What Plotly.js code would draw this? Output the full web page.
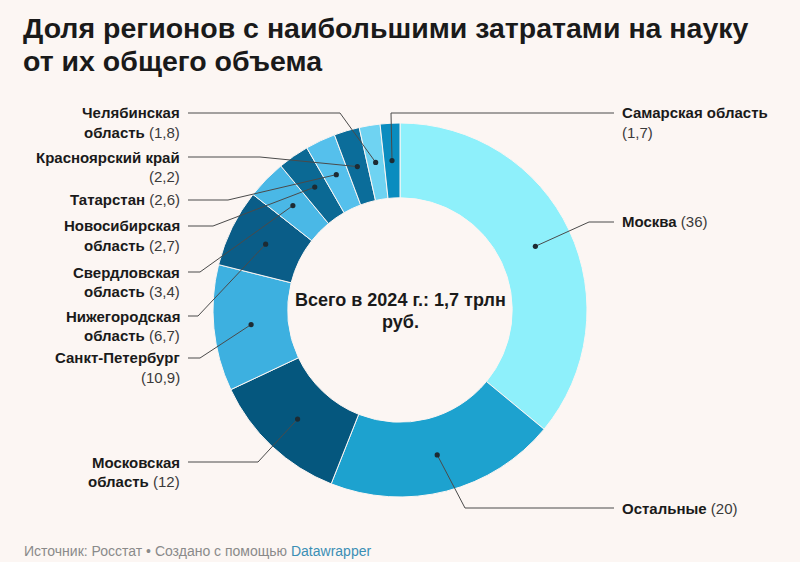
<!DOCTYPE html>
<html>
<head>
<meta charset="utf-8">
<script src="https://cdn.plot.ly/plotly-3.0.1.min.js"></script>
<style>
  html, body { margin: 0; padding: 0; background: #fcf6f3; }
  #chart { width: 800px; height: 562px; }
</style>
</head>
<body>
<div id="chart"></div>
<script>
'use strict'

// data, clockwise from 12 o'clock
const regions = ['Москва', 'Остальные', 'Московская<br>область', 'Санкт-Петербург', 'Нижегородская<br>область',
    'Свердловская<br>область', 'Новосибирская<br>область', 'Татарстан', 'Красноярский край', 'Челябинская<br>область',
    'Самарская область'];
const shares = [36, 20, 12, 10.9, 6.7, 3.4, 2.7, 2.6, 2.2, 1.8, 1.7];
const shareText = ['36', '20', '12', '10,9', '6,7', '3,4', '2,7', '2,6', '2,2', '1,8', '1,7'];
const colors = ['#8ef0fb', '#1da2cf', '#05577e', '#3db0e0', '#0a5d88', '#4ab8e6', '#0b6994', '#55c0ec',
    '#0b6d9a', '#6fd3f2', '#0a8cbf'];

// label layout (pixels): side, y of leader line, elbow x, number on its own line?
const labelSide = ['r', 'r', 'l', 'l', 'l', 'l', 'l', 'l', 'l', 'l', 'r'];
const labelY = [222, 508, 462, 358, 316, 272, 226, 200, 157, 113, 113];
const elbowX = [589, 465, 258, 200, 198, 200, 213, 228, 260, 340, 391];
const numBreak = [false, false, false, true, false, false, false, false, true, false, true];

const W = 800, H = 562;
const cx = 400, cy = 310, R = 187, hole = 0.6;
const FONT = 'Liberation Sans, Arial, sans-serif';
const px = x => x / W;
const py = y => 1 - y / H;

let shapes = [], annotations = [];
let total = shares.reduce((a, b) => a + b, 0);
let cum = 0;
const rMid = R * (1 + hole) / 2;

function addText(x, y, txt, anchor, size, color) {
    annotations.push({xref: 'paper', yref: 'paper', x: px(x), y: py(y), xanchor: anchor, yanchor: 'middle',
        showarrow: false, text: txt, font: {family: FONT, size: size, color: color}});
}

for (let i = 0; i < shares.length; i++) {
    let mid = (cum + shares[i] / 2) / total * 2 * Math.PI;
    cum += shares[i];
    let dx = cx + rMid * Math.sin(mid),
        dy = cy - rMid * Math.cos(mid);
    let left = labelSide[i] === 'l';
    let x0 = left ? 188 : 614;
    // leader line
    shapes.push({type: 'path', xref: 'paper', yref: 'paper',
        path: 'M' + px(x0) + ',' + py(labelY[i]) + ' L' + px(elbowX[i]) + ',' + py(labelY[i]) +
              ' L' + px(dx) + ',' + py(dy),
        line: {color: '#4a4a4a', width: 1}});
    // dot
    shapes.push({type: 'circle', xref: 'paper', yref: 'paper',
        x0: px(dx - 2.6), x1: px(dx + 2.6), y0: py(dy + 2.6), y1: py(dy - 2.6),
        fillcolor: '#1d2b33', line: {width: 0}});
    // label, one annotation per line
    let lines = regions[i].split('<br>').map(s => '<b>' + s + '</b>');
    let num = '<span style="color:#3a3a3a">(' + shareText[i] + ')</span>';
    if (numBreak[i]) lines.push(num);
    else lines[lines.length - 1] += ' ' + num;
    lines.forEach((ln, k) => {
        addText(left ? 182 : 620, labelY[i] + k * 19, ln, left ? 'right' : 'left', 15, '#1a1a1a');
    });
}

addText(cx, 300, '<b>Всего в 2024 г.: 1,7 трлн</b>', 'center', 18, '#1a1a1a');
addText(cx, 322, '<b>руб.</b>', 'center', 18, '#1a1a1a');

addText(21, 28, '<b>Доля регионов с наибольшими затратами на науку</b>', 'left', 28.5, '#1a1a1a');
addText(21, 61, '<b>от их общего объема</b>', 'left', 28.5, '#1a1a1a');

addText(22, 551, 'Источник: Росстат • Создано с помощью <span style="color:#3b8fb5">Datawrapper</span>',
    'left', 14, '#8a8a8a');

let trace = {
    type: 'pie',
    labels: regions,
    values: shares,
    sort: false,
    direction: 'clockwise',
    rotation: 0,
    hole: hole,
    textinfo: 'none',
    hoverinfo: 'none',
    marker: {colors: colors, line: {color: '#fcf6f3', width: 1}},
    domain: {x: [px(cx - R), px(cx + R)], y: [py(cy + R), py(cy - R)]}
};

let layout = {
    width: W, height: H,
    margin: {l: 0, r: 0, t: 0, b: 0},
    paper_bgcolor: '#fcf6f3',
    plot_bgcolor: '#fcf6f3',
    showlegend: false,
    shapes: shapes,
    annotations: annotations
};

Plotly.newPlot('chart', [trace], layout, {staticPlot: true});
</script>
</body>
</html>
